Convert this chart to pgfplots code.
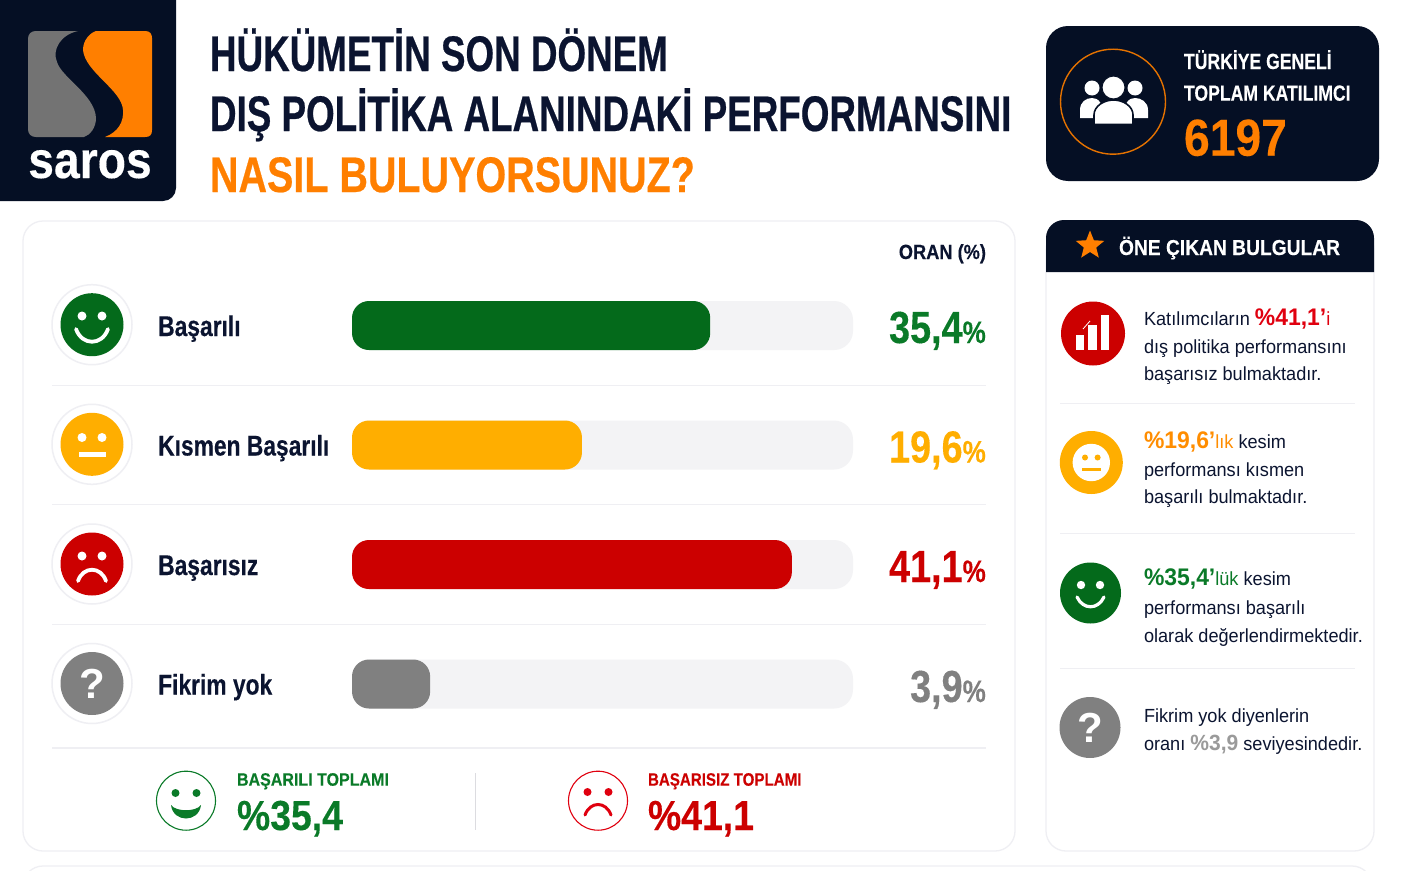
\documentclass[border=0pt]{standalone}
\usepackage{fontspec}
\usepackage{pgfplots}
\pgfplotsset{compat=1.18}
\usetikzlibrary{shapes.geometric}
\setmainfont{Liberation Sans}
\newfontfamily\cond[FakeStretch=0.8,BoldFeatures={FakeBold=0.25,FakeStretch=0.8}]{Liberation Sans}
\newfontfamily\wide[FakeStretch=0.89,BoldFeatures={FakeBold=0.25,FakeStretch=0.89}]{Liberation Sans}
\newfontfamily\midw[FakeStretch=0.84,BoldFeatures={FakeBold=0.25,FakeStretch=0.84}]{Liberation Sans}
\newfontfamily\condb[FakeStretch=0.736,BoldFeatures={FakeBold=0.45,FakeStretch=0.736}]{Liberation Sans}
\newfontfamily\condc[FakeStretch=0.79,BoldFeatures={FakeBold=0.45,FakeStretch=0.79}]{Liberation Sans}
\newfontfamily\body[FakeStretch=0.955]{Liberation Sans}
\definecolor{navy}{HTML}{050F24}
\definecolor{ink}{HTML}{0B1430}
\definecolor{org}{HTML}{FF7F00}
\definecolor{grn}{HTML}{046A1B}
\definecolor{grnt}{HTML}{0A7A28}
\definecolor{amb}{HTML}{FFAE00}
\definecolor{rd}{HTML}{CC0000}
\definecolor{rdt}{HTML}{E0000F}
\definecolor{gry}{HTML}{808080}
\definecolor{trk}{HTML}{F3F3F5}
\definecolor{sep}{HTML}{EFEFF3}
\tikzset{px/.style={x=1pt,y=-1pt}}
% x y anchor font colour text
\newcommand{\txt}[6]{\node[anchor=#3,inner sep=0pt,outer sep=0pt,text=#5,font=#4] at (#1,#2) {#6};}
\newcommand{\ttl}[1]{\fontsize{#1}{#1}\selectfont}
\begin{document}
\begin{tikzpicture}
\begin{scope}[px]
\clip (0,0) rectangle (1402,870);
\fill[white] (0,0) rectangle (1402,870);
% logo
\fill[navy] (0,0) -- (176,0) [rounded corners=13] -- (176,201) [sharp corners] -- (0,201) -- cycle;
\fill[gry!90!black] (36,31) -- (78,31) .. controls (60,35) and (52,50) .. (57,62) .. controls (62,78) and (95,95) .. (96,118) .. controls (96,128) and (90,135) .. (84,137) -- (36,137) .. controls (31,137) and (28,134) .. (28,129) -- (28,39) .. controls (28,34) and (31,31) .. (36,31) -- cycle;
\fill[org] (96,31) -- (145,31) .. controls (150,31) and (152,34) .. (152,38) -- (152,130) .. controls (152,135) and (150,137) .. (145,137) -- (105,137) .. controls (118,132) and (124,122) .. (123,110) .. controls (122,90) and (85,72) .. (83,50) .. controls (83,40) and (90,33) .. (96,31) -- cycle;
\txt{90}{178}{base}{\wide\bfseries\ttl{52}}{white}{saros}
% title
\txt{210}{71}{base west}{\condb\bfseries\ttl{50}}{ink}{HÜKÜMETİN SON DÖNEM}
\txt{210}{131}{base west}{\condb\bfseries\ttl{50}}{ink}{DIŞ POLİTİKA ALANINDAKİ PERFORMANSINI}
\txt{210}{192}{base west}{\condc\bfseries\ttl{50}}{org}{NASIL BULUYORSUNUZ?}
% participants card
\fill[navy,rounded corners=22] (1046,26) rectangle (1379,181);
\draw[org!90!black,line width=1.4] (1113,101.7) circle (52.5);
\fill[white] (1092,88) circle (7.5); \fill[white] (1135,88) circle (7.5);
\fill[white] (1080,118) -- (1080,110) .. controls (1080,102) and (1086,98) .. (1092,98) .. controls (1098,98) and (1103,102) .. (1104,118) -- cycle;
\fill[white] (1148,118) -- (1148,110) .. controls (1148,102) and (1141,98) .. (1135,98) .. controls (1129,98) and (1124,102) .. (1123,118) -- cycle;
\fill[white,draw=navy,line width=1.6] (1094,124.5) -- (1094,115) .. controls (1094,106) and (1104,100) .. (1113.5,100) .. controls (1123,100) and (1133,106) .. (1133,115) -- (1133,124.5) -- cycle;
\fill[white,draw=navy,line width=1] (1113.5,87.5) circle (11.5);
\txt{1184}{69}{base west}{\cond\bfseries\ttl{22}}{white}{TÜRKİYE GENELİ}
\txt{1184}{100.7}{base west}{\cond\bfseries\ttl{22}}{white}{TOPLAM KATILIMCI}
\txt{1184}{155.7}{base west}{\wide\bfseries\ttl{52}}{org}{6197}
% left card
\fill[white,draw=sep,line width=1.3,rounded corners=20] (23,221) rectangle (1015,851);
% right panel
\fill[white,draw=sep,line width=1.3,rounded corners=20] (1046,230) rectangle (1374,851);
\fill[navy] (1046,272) -- (1046,240) [rounded corners=18] -- (1046,220) -- (1374,220) [sharp corners] -- (1374,272) -- cycle;
% bottom card peeking in
\draw[sep,line width=1.3,rounded corners=20] (23,900) -- (23,866) -- (1372,866) -- (1372,900);
\node[star,star points=5,star point ratio=2.3,fill=org,inner sep=0pt,minimum size=30pt] at (1090,245.5) {};
\txt{1119}{255}{base west}{\wide\bfseries\ttl{21.6}}{white}{ÖNE ÇIKAN BULGULAR}
\txt{986}{259}{base east}{\wide\bfseries\ttl{20.5}}{ink}{ORAN (\%)}
% row separators
\foreach \y in {385,504.5,624.5} \draw[sep,line width=1] (52,\y) -- (986,\y);
\draw[sep,line width=2] (52,747.7) -- (986,747.7);
\end{scope}

% the bars. The picture's bars are not proportional to their printed values,
% so the lengths below are the drawn lengths as a share of the grey track.
\begin{axis}[
  at={(352pt,-265.75pt)},anchor=north west,
  scale only axis,width=501pt,height=478pt,
  xmin=0,xmax=100,ymin=-0.5,ymax=3.5,y dir=reverse,
  xbar,bar shift=0pt,bar width=49pt,
  clip=false,
  axis line style={draw=none},
  xtick=\empty,
  ytick={0,1,2,3},
  yticklabels={Başarılı,Kısmen Başarılı,Başarısız,Fikrim yok},
  major tick length=0pt,
  yticklabel style={anchor=base west,inner sep=0pt,xshift=-194pt,yshift=-10.5pt,
    font=\cond\bfseries\ttl{28.5},text=ink},
]
\addplot[fill=trk,draw=none,rounded corners=19pt] coordinates {(100,0) (100,1) (100,2) (100,3)};
\addplot[fill=grn,draw=none,rounded corners=17pt] coordinates {(71.5,0)};
\addplot[fill=amb,draw=none,rounded corners=17pt] coordinates {(45.9,1)};
\addplot[fill=rd,draw=none,rounded corners=17pt] coordinates {(87.8,2)};
\addplot[fill=gry,draw=none,rounded corners=17pt] coordinates {(15.6,3)};
\end{axis}

\begin{scope}[px]
% values
\newcommand{\val}[3]{\node[anchor=base east,inner sep=0pt,text=#3] at (986,#1) {\midw\bfseries\ttl{45}#2{\ttl{31}\%}};}
\val{343}{35,4}{grnt}
\val{462.5}{19,6}{amb}
\val{582}{41,1}{rd}
\val{702}{3,9}{gry}
% row icons
\foreach \y in {324.7,444.3,564,683.5} \draw[sep,line width=1.5] (92,\y) circle (40);
\fill[grn] (92,324.7) circle (31.5);
\fill[white] (82,316) circle (4.5); \fill[white] (102,316) circle (4.5);
\draw[white,line width=3.8,line cap=round] (76,329) .. controls (82,346) and (102,346) .. (108,329);
\fill[amb] (92,444.3) circle (31.5);
\fill[white] (82,437.5) circle (4.5); \fill[white] (102,437.5) circle (4.5);
\fill[white] (79,452) rectangle (106,456.5);
\fill[rd] (92,564) circle (31.5);
\fill[white] (82,556) circle (4.5); \fill[white] (102,556) circle (4.5);
\draw[white,line width=3.8,line cap=round] (78,581) .. controls (83,566) and (101,566) .. (106,581);
\fill[gry] (92,683.5) circle (31.5);
\txt{92}{698}{base}{\bfseries\ttl{42}}{white}{?}
% bottom totals
\draw[grnt,line width=1.1] (186,800.7) circle (29.5);
\fill[grnt] (175.5,793) circle (4); \fill[grnt] (196.5,793) circle (4);
\fill[grnt] (171,805) .. controls (176,812) and (196,812) .. (201,805) .. controls (199,823) and (173,823) .. (171,805) -- cycle;
\draw[rdt,line width=1.1] (598,800.7) circle (29.5);
\fill[rdt] (587.5,792) circle (4); \fill[rdt] (608.5,792) circle (4);
\draw[rdt,line width=3,line cap=round] (585,815) .. controls (590,801) and (606,801) .. (611,815);
\draw[sep!92!black,line width=1.2] (475.5,773) -- (475.5,830);
\txt{237}{785.7}{base west}{\wide\bfseries\ttl{18}}{grnt}{BAŞARILI TOPLAMI}
\txt{237}{830}{base west}{\wide\bfseries\ttl{42}}{grnt}{\%35,4}
\txt{648}{785.7}{base west}{\midw\bfseries\ttl{18}}{rd}{BAŞARISIZ TOPLAMI}
\txt{648}{830}{base west}{\wide\bfseries\ttl{42}}{rd}{\%41,1}
% right findings
\foreach \y in {403,533,668} \draw[sep,line width=1] (1060,\y) -- (1355,\y);
\fill[rd] (1093,333.5) circle (32);
\fill[white] (1075.7,335) rectangle (1084.3,350);
\fill[white] (1088.3,325) rectangle (1096.7,350);
\fill[white] (1100.7,315) rectangle (1109,350);
\draw[white,line width=0.8] (1083,329) -- (1090,321);
\fill[amb] (1091.3,462.5) circle (31.5);
\fill[white] (1091.3,462.5) circle (18.7);
\fill[amb] (1085,457.5) circle (3); \fill[amb] (1097.6,457.5) circle (3);
\fill[amb] (1081.8,468.3) rectangle (1100.8,471);
\fill[grn] (1090.5,593) circle (30.5);
\fill[white] (1081,585) circle (4.2); \fill[white] (1100,585) circle (4.2);
\draw[white,line width=3.2,line cap=round] (1077,597) .. controls (1083,610) and (1098,610) .. (1104,597);
\fill[gry] (1090,727.5) circle (30.5);
\txt{1090}{742}{base}{\bfseries\ttl{42}}{white}{?}
\newcommand{\fs}{\body\ttl{19}}
\newcommand{\hi}[2]{{\color{#1}\bfseries\ttl{24}#2}}
\txt{1144}{325}{base west}{\fs}{ink}{Katılımcıların \hi{rdt}{\%41,1’}{\color{rdt}i}}
\txt{1144}{353}{base west}{\fs}{ink}{dış politika performansını}
\txt{1144}{380}{base west}{\fs}{ink}{başarısız bulmaktadır.}
\txt{1144}{448}{base west}{\fs}{ink}{\hi{org!70!amb}{\%19,6’}{\color{org!70!amb}lık} kesim}
\txt{1144}{476}{base west}{\fs}{ink}{performansı kısmen}
\txt{1144}{503}{base west}{\fs}{ink}{başarılı bulmaktadır.}
\txt{1144}{585}{base west}{\fs}{ink}{\hi{grnt}{\%35,4’}{\color{grnt}lük} kesim}
\txt{1144}{614}{base west}{\fs}{ink}{performansı başarılı}
\txt{1144}{642}{base west}{\fs}{ink}{olarak değerlendirmektedir.}
\txt{1144}{722.7}{base west}{\fs}{ink}{Fikrim yok diyenlerin}
\txt{1144}{750.7}{base west}{\fs}{ink}{oranı {\color{gry!80!white}\bfseries\ttl{22}\%3,9} seviyesindedir.}
\end{scope}
\pgfresetboundingbox
\path[px] (0,0) rectangle (1402,870);
\end{tikzpicture}
\end{document}
